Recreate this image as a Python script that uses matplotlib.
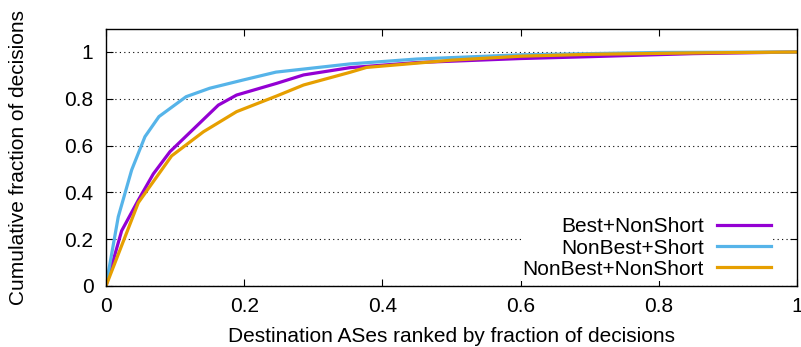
import matplotlib
matplotlib.use("Agg")
import matplotlib.pyplot as plt

plt.rcParams['font.family'] = ['Liberation Sans', 'DejaVu Sans']

best_nonshort_x = [0, 0.0227, 0.0468, 0.0685, 0.0926, 0.1626, 0.189, 0.247, 0.286, 0.353, 0.45, 0.6, 0.7, 0.85, 1.0]
best_nonshort_y = [0, 0.236, 0.367, 0.479, 0.574, 0.773, 0.816, 0.866, 0.902, 0.933, 0.955, 0.972, 0.980, 0.993, 1.0]

nonbest_short_x = [0, 0.0178, 0.0372, 0.0564, 0.0767, 0.116, 0.150, 0.198, 0.246, 0.353, 0.45, 0.6, 0.7, 0.8, 1.0]
nonbest_short_y = [0, 0.296, 0.496, 0.638, 0.724, 0.809, 0.845, 0.880, 0.914, 0.949, 0.97, 0.988, 0.993, 0.998, 1.0]

nonbest_nonshort_x = [0, 0.0468, 0.095, 0.141, 0.189, 0.247, 0.286, 0.353, 0.377, 0.5, 0.6, 0.7, 0.85, 1.0]
nonbest_nonshort_y = [0, 0.356, 0.556, 0.659, 0.745, 0.812, 0.859, 0.913, 0.934, 0.965, 0.982, 0.99, 0.996, 1.0]

series_labels = ["Best+NonShort", "NonBest+Short", "NonBest+NonShort"]
colors = ["#9400D3", "#56B4E9", "#E69F00"]

fig = plt.figure(figsize=(8.01, 3.47), dpi=100)
ax = fig.add_axes([0.1323, 0.1758, 0.8627, 0.7418])

for xs, ys, lab, c in zip([best_nonshort_x, nonbest_short_x, nonbest_nonshort_x],
                          [best_nonshort_y, nonbest_short_y, nonbest_nonshort_y],
                          series_labels, colors):
    ax.plot(xs, ys, color=c, lw=2.3, label=lab, solid_joinstyle='miter')

ax.set_xlim(0, 1)
ax.set_ylim(0, 1.1)
ax.set_xticks([0, 0.2, 0.4, 0.6, 0.8, 1.0])
ax.set_xticklabels(["0", "0.2", "0.4", "0.6", "0.8", "1"])
ax.set_yticks([0, 0.2, 0.4, 0.6, 0.8, 1.0])
ax.set_yticklabels(["0", "0.2", "0.4", "0.6", "0.8", "1"])
ax.tick_params(direction='in', top=True, right=True, labelsize=15, length=5)
ax.tick_params(axis='x', pad=8)
ax.tick_params(axis='y', pad=9)
ax.yaxis.grid(True, linestyle=(0, (1, 3)), color='black', lw=0.8)
ax.set_axisbelow(True)
for s in ax.spines.values():
    s.set_linewidth(1.0)
    s.set_zorder(3)

ax.set_xlabel("Destination ASes ranked by fraction of decisions", fontsize=15, labelpad=8)
ax.set_ylabel("Cumulative fraction of decisions", fontsize=15, labelpad=26)

leg = ax.legend(loc='lower right', markerfirst=False, fontsize=15, frameon=True,
                facecolor='white', edgecolor='none', framealpha=1, fancybox=False,
                handlelength=2.6, labelspacing=0.1, borderpad=0.1, handletextpad=0.6,
                bbox_to_anchor=(0.98, -0.02))
leg.set_zorder(2.2)
for t in leg.get_texts():
    t.set_ha('right')
leg._legend_box.align = 'right'

fig.savefig("out.png", dpi=100)
